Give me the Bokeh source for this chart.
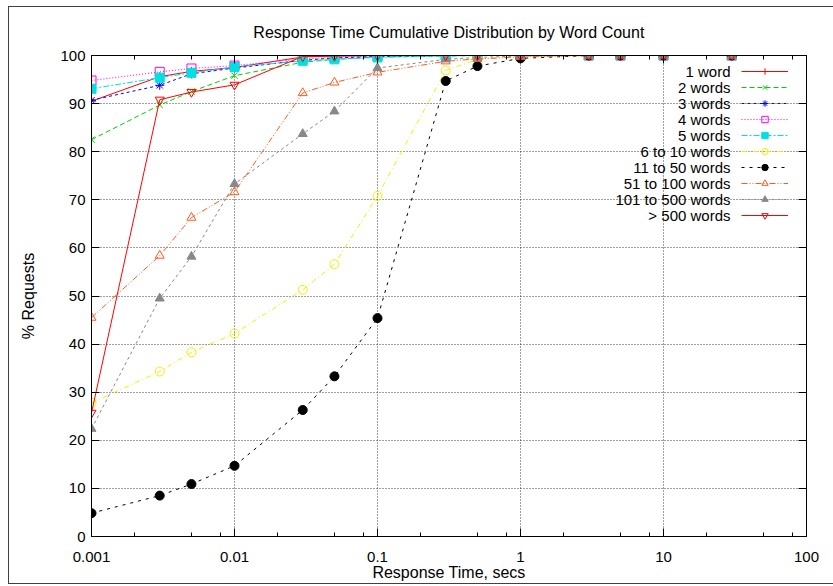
from bokeh.plotting import figure
from bokeh.models import (FixedTicker, LogAxis, LinearAxis, Legend, LegendItem,
                          Label, Range1d)
from bokeh.embed import file_html
from bokeh.resources import INLINE

# ---------------- data ----------------
x_secs = [0.001, 0.003, 0.005, 0.01, 0.03, 0.05, 0.1, 0.3, 0.5, 1, 3, 5, 10, 30]

series_names = ["1 word", "2 words", "3 words", "4 words", "5 words",
                "6 to 10 words", "11 to 50 words", "51 to 100 words",
                "101 to 500 words", "> 500 words"]

one_word = [90.5, 95.6, 96.7, 97.5, 99.7, 99.9, 100, 100, 100, 100, 100, 100, 100, 100]
two_words = [82.5, 89.7, 92.5, 95.8, 98.6, 99.2, 99.7, 99.9, 100, 100, 100, 100, 100, 100]
three_words = [90.7, 93.8, 96.2, 97.4, 99.0, 99.5, 99.8, 100, 100, 100, 100, 100, 100, 100]
four_words = [94.8, 96.6, 97.3, 97.9, 99.3, 99.6, 99.9, 100, 100, 100, 100, 100, 100, 100]
five_words = [93.1, 95.4, 96.4, 97.6, 98.9, 99.2, 99.6, 99.9, 100, 100, 100, 100, 100, 100]
six_to_ten = [27.8, 34.3, 38.3, 42.2, 51.3, 56.6, 70.8, 96.9, 99.2, 99.8, 100, 100, 100, 100]
eleven_to_fifty = [4.85, 8.5, 10.9, 14.7, 26.3, 33.3, 45.4, 94.7, 97.8, 99.4, 100, 100, 100, 100]
fiftyone_to_hundred = [45.5, 58.4, 66.3, 71.6, 92.2, 94.4, 96.5, 98.8, 99.3, 99.7, 100, 100, 100, 100]
hundred_to_500 = [22.4, 49.5, 58.2, 73.3, 83.7, 88.4, 97.4, 99.2, 99.6, 99.9, 100, 100, 100, 100]
over_500 = [25.7, 90.8, 92.4, 93.9, 99.8, 99.9, 100, 100, 100, 100, 100, 100, 100, 100]

x_major_ticks = [0.001, 0.01, 0.1, 1, 10, 100]
x_tick_labels = ["0.001", "0.01", "0.1", "1", "10", "100"]
x_minor_ticks = [m * d for d in [0.001, 0.01, 0.1, 1, 10] for m in (2, 5, 8)]
y_ticks = [0, 10, 20, 30, 40, 50, 60, 70, 80, 90, 100]

# ---------------- styles ----------------
all_values = [one_word, two_words, three_words, four_words, five_words, six_to_ten,
              eleven_to_fifty, fiftyone_to_hundred, hundred_to_500, over_500]
colors = ["#ff0000", "#00d000", "#0000ff", "#ff00ff", "#00e0e0", "#f0f000",
          "#000000", "#ff5a1e", "#888888", "#ff0000"]
dashes = ["solid", "5 3", "3 3", "1 2", "6 2 2 2", "5 3 1 3", "3 5",
          "6 2 1 2 1 2", "3 3", "solid"]
markers = ["cross", "x", "asterisk", "square", "square", "circle", "circle",
           "triangle", "triangle", "inverted_triangle"]
filled = [False, False, False, False, True, False, True, False, True, False]

FONT = "Liberation Sans"
EDGE = "linear-gradient(#404040, #404040)"

p = figure(width=825, height=580, x_axis_type="log",
           x_range=Range1d(0.001, 100), y_range=Range1d(0, 100),
           output_backend="svg", toolbar_location=None,
           title="Response Time Cumulative Distribution by Word Count",
           min_border_left=83, min_border_right=27, min_border_top=49,
           min_border_bottom=50)
p.styles = {"margin-left": "8px", "margin-top": "6px",
            "background-color": "white",
            "background-image": f"{EDGE}, {EDGE}, {EDGE}",
            "background-size": "1px 578px, 100% 1px, 100% 1px",
            "background-position": "0 0, 0 0, 0 577px",
            "background-repeat": "no-repeat"}

p.title.align = "center"
p.title.text_font = FONT
p.title.text_font_size = "16px"
p.title.text_font_style = "normal"
p.title.text_color = "#000000"
p.title.standoff = 30

p.outline_line_color = "#000000"
p.outline_line_width = 1
p.background_fill_color = "white"
p.border_fill_color = None

xt = FixedTicker(ticks=x_major_ticks, minor_ticks=x_minor_ticks)
yt = FixedTicker(ticks=y_ticks)

xa = p.xaxis[0]
xa.ticker = xt
xa.major_label_overrides = {v: s for v, s in zip(x_major_ticks, x_tick_labels)}
ya = p.yaxis[0]
ya.ticker = yt

for ax in (xa, ya):
    ax.major_tick_in = 8
    ax.major_tick_out = 0
    ax.minor_tick_in = 4
    ax.minor_tick_out = 0
    ax.axis_line_color = "#000000"
    ax.major_tick_line_color = "#000000"
    ax.minor_tick_line_color = "#000000"
    ax.major_label_text_font = FONT
    ax.major_label_text_font_size = "15px"
    ax.major_label_text_color = "#000000"
    ax.axis_label_text_font = FONT
    ax.axis_label_text_font_size = "16px"
    ax.axis_label_text_font_style = "normal"
    ax.axis_label_text_color = "#000000"

xa.axis_label = "Response Time, secs"
xa.major_label_standoff = 15
xa.axis_label_standoff = -1
ya.axis_label = "% Requests"
ya.major_label_standoff = 6
ya.axis_label_standoff = 20
ya.minor_tick_line_color = None

# mirrored ticks on top and right (labels invisible)
top = LogAxis(ticker=xt, major_tick_in=8, major_tick_out=0, minor_tick_in=4,
              minor_tick_out=0, major_label_text_font_size="4px",
              major_label_text_alpha=0, major_label_standoff=0,
              axis_line_color="#000000")
right = LinearAxis(ticker=yt, major_tick_in=8, major_tick_out=0, minor_tick_in=0,
                   minor_tick_out=0, minor_tick_line_color=None,
                   major_label_text_font_size="4px", major_label_text_alpha=0,
                   major_label_standoff=0, axis_line_color="#000000")
p.add_layout(top, "above")
p.add_layout(right, "right")

p.xgrid.ticker = FixedTicker(ticks=x_major_ticks)
p.ygrid.ticker = yt
for g in (p.xgrid[0], p.ygrid[0]):
    g.grid_line_color = "#000000"
    g.grid_line_dash = "1 2"
    g.grid_line_alpha = 0.75
    g.grid_line_width = 1

items = []
for name, vals, c, d, m, f in zip(series_names, all_values, colors, dashes, markers, filled):
    rl = p.line(x_secs, vals, line_color=c, line_dash=d, line_width=1)
    rm = p.scatter(x_secs, vals, marker=m, size=9, line_color=c,
                   fill_color=(c if f else None), line_width=1)
    items.append(LegendItem(label=".", renderers=[rl, rm]))

legend = Legend(items=items, location=(650, 313), glyph_width=47, glyph_height=16,
                label_width=0, label_height=16, label_standoff=0, spacing=0,
                padding=0, margin=0, border_line_color=None,
                background_fill_alpha=0, label_text_font_size="4px",
                label_text_alpha=0)
p.add_layout(legend)

for i, name in enumerate(series_names):
    p.add_layout(Label(x=639, y=465 - 16 * i, x_units="screen", y_units="screen",
                       text=name, text_align="right", text_baseline="middle",
                       text_font=FONT, text_font_size="15px", text_color="#000000"))

open("out.html", "w").write(file_html(p, INLINE))
